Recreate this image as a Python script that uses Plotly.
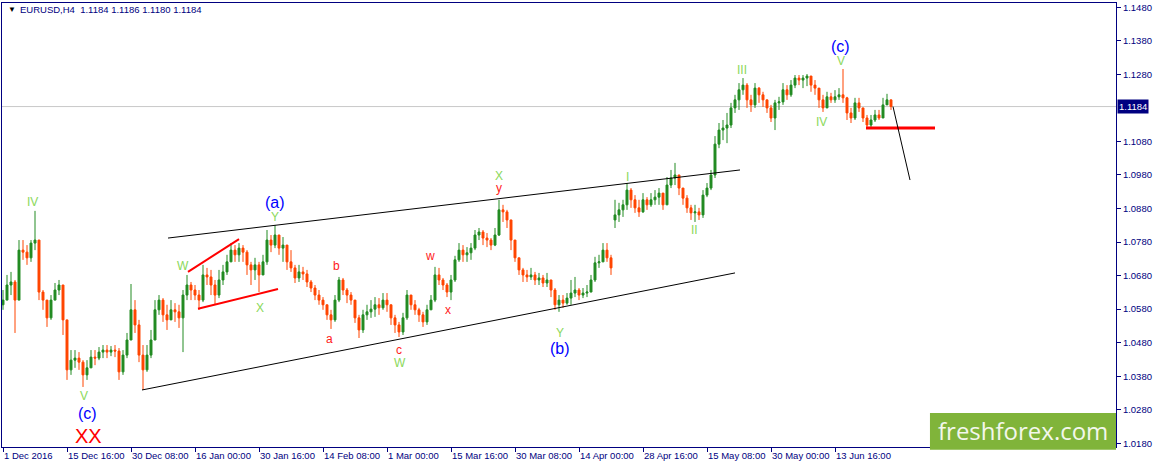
from typing import List

import plotly.graph_objects as go

"""
plot.py

EURUSD H4 chart with an Elliott wave count (1 Dec 2016 - end of Jun 2017).
One candle here stands for 4 H4 bars, x is counted in H4 bars from 1 Dec 2016 00:00.
"""

# ---- candles (price) ----
OPEN: List[float] = [
    1.0593, 1.0607, 1.0652, 1.0661, 1.0607, 1.0756, 1.0750, 1.0733, 1.0777, 1.0786,
    1.0631, 1.0607, 1.0554, 1.0607, 1.0637, 1.0652, 1.0548, 1.0399, 1.0428, 1.0434,
    1.0422, 1.0384, 1.0405, 1.0437, 1.0434, 1.0452, 1.0458, 1.0452, 1.0458, 1.0455,
    1.0393, 1.0443, 1.0488, 1.0578, 1.0533, 1.0443, 1.0399, 1.0443, 1.0488, 1.0578,
    1.0607, 1.0563, 1.0548, 1.0578, 1.0572, 1.0554, 1.0622, 1.0652, 1.0637, 1.0622,
    1.0607, 1.0682, 1.0676, 1.0652, 1.0622, 1.0667, 1.0691, 1.0721, 1.0756, 1.0742,
    1.0762, 1.0750, 1.0712, 1.0697, 1.0712, 1.0682, 1.0721, 1.0786, 1.0771, 1.0801,
    1.0762, 1.0771, 1.0721, 1.0703, 1.0673, 1.0691, 1.0685, 1.0661, 1.0643, 1.0622,
    1.0607, 1.0593, 1.0563, 1.0548, 1.0607, 1.0667, 1.0637, 1.0622, 1.0607, 1.0554,
    1.0518, 1.0563, 1.0572, 1.0580, 1.0593, 1.0584, 1.0607, 1.0593, 1.0554, 1.0533,
    1.0512, 1.0554, 1.0622, 1.0593, 1.0578, 1.0563, 1.0542, 1.0578, 1.0607, 1.0682,
    1.0667, 1.0652, 1.0631, 1.0667, 1.0727, 1.0756, 1.0742, 1.0748, 1.0762, 1.0801,
    1.0810, 1.0792, 1.0786, 1.0771, 1.0801, 1.0876, 1.0870, 1.0846, 1.0786, 1.0733,
    1.0697, 1.0682, 1.0676, 1.0682, 1.0667, 1.0673, 1.0658, 1.0667, 1.0637, 1.0593,
    1.0607, 1.0598, 1.0613, 1.0628, 1.0637, 1.0622, 1.0628, 1.0631, 1.0667, 1.0718,
    1.0721, 1.0756, 1.0733, 1.0846, 1.0861, 1.0876, 1.0891, 1.0935, 1.0906, 1.0882,
    1.0870, 1.0906, 1.0891, 1.0906, 1.0914, 1.0926, 1.0891, 1.0950, 1.0971, 1.0980,
    1.0941, 1.0911, 1.0882, 1.0867, 1.0870, 1.0861, 1.0920, 1.0941, 1.0980, 1.1072,
    1.1114, 1.1120, 1.1129, 1.1180, 1.1204, 1.1234, 1.1248, 1.1204, 1.1189, 1.1239,
    1.1219, 1.1204, 1.1180, 1.1150, 1.1195, 1.1198, 1.1234, 1.1219, 1.1248, 1.1269,
    1.1263, 1.1269, 1.1275, 1.1248, 1.1239, 1.1204, 1.1180, 1.1213, 1.1204, 1.1213,
    1.1219, 1.1210, 1.1165, 1.1150, 1.1195, 1.1180, 1.1150, 1.1129, 1.1144, 1.1159,
    1.1150, 1.1189, 1.1204,
]
HIGH: List[float] = [
    1.0637, 1.0682, 1.0691, 1.0667, 1.0786, 1.0786, 1.0771, 1.0786, 1.0873, 1.0786,
    1.0637, 1.0607, 1.0622, 1.0658, 1.0667, 1.0652, 1.0548, 1.0458, 1.0458, 1.0452,
    1.0428, 1.0428, 1.0458, 1.0458, 1.0467, 1.0473, 1.0473, 1.0470, 1.0473, 1.0464,
    1.0458, 1.0509, 1.0655, 1.0607, 1.0548, 1.0473, 1.0473, 1.0518, 1.0607, 1.0622,
    1.0613, 1.0593, 1.0607, 1.0598, 1.0593, 1.0637, 1.0682, 1.0661, 1.0652, 1.0637,
    1.0712, 1.0703, 1.0697, 1.0667, 1.0697, 1.0712, 1.0742, 1.0777, 1.0771, 1.0777,
    1.0771, 1.0756, 1.0721, 1.0733, 1.0721, 1.0742, 1.0816, 1.0801, 1.0831, 1.0801,
    1.0795, 1.0771, 1.0756, 1.0712, 1.0712, 1.0706, 1.0697, 1.0667, 1.0652, 1.0637,
    1.0616, 1.0593, 1.0578, 1.0622, 1.0676, 1.0673, 1.0643, 1.0631, 1.0607, 1.0563,
    1.0578, 1.0593, 1.0607, 1.0616, 1.0613, 1.0628, 1.0628, 1.0593, 1.0563, 1.0542,
    1.0569, 1.0637, 1.0622, 1.0607, 1.0584, 1.0572, 1.0593, 1.0622, 1.0706, 1.0703,
    1.0673, 1.0658, 1.0682, 1.0739, 1.0777, 1.0771, 1.0765, 1.0777, 1.0816, 1.0822,
    1.0816, 1.0807, 1.0792, 1.0822, 1.0906, 1.0891, 1.0876, 1.0846, 1.0786, 1.0733,
    1.0703, 1.0697, 1.0703, 1.0691, 1.0688, 1.0682, 1.0688, 1.0667, 1.0643, 1.0622,
    1.0622, 1.0628, 1.0667, 1.0676, 1.0643, 1.0643, 1.0652, 1.0682, 1.0736, 1.0742,
    1.0777, 1.0777, 1.0742, 1.0906, 1.0897, 1.0906, 1.0956, 1.0941, 1.0920, 1.0906,
    1.0926, 1.0914, 1.0926, 1.0935, 1.0941, 1.0926, 1.0974, 1.0995, 1.1016, 1.0980,
    1.0941, 1.0920, 1.0891, 1.0891, 1.0882, 1.0935, 1.0956, 1.0995, 1.1096, 1.1135,
    1.1144, 1.1165, 1.1195, 1.1219, 1.1254, 1.1269, 1.1254, 1.1219, 1.1254, 1.1242,
    1.1228, 1.1204, 1.1189, 1.1204, 1.1213, 1.1254, 1.1248, 1.1263, 1.1278, 1.1278,
    1.1278, 1.1281, 1.1275, 1.1263, 1.1239, 1.1219, 1.1228, 1.1225, 1.1233, 1.1239,
    1.1296, 1.1213, 1.1180, 1.1210, 1.1210, 1.1180, 1.1159, 1.1159, 1.1174, 1.1174,
    1.1210, 1.1222, 1.1204,
]
LOW: List[float] = [
    1.0578, 1.0607, 1.0622, 1.0509, 1.0607, 1.0727, 1.0712, 1.0721, 1.0756, 1.0607,
    1.0578, 1.0527, 1.0548, 1.0607, 1.0622, 1.0503, 1.0369, 1.0384, 1.0405, 1.0399,
    1.0348, 1.0369, 1.0405, 1.0413, 1.0428, 1.0434, 1.0434, 1.0440, 1.0437, 1.0369,
    1.0384, 1.0434, 1.0488, 1.0509, 1.0422, 1.0339, 1.0393, 1.0434, 1.0488, 1.0563,
    1.0542, 1.0518, 1.0548, 1.0542, 1.0524, 1.0452, 1.0607, 1.0607, 1.0607, 1.0578,
    1.0601, 1.0652, 1.0622, 1.0593, 1.0613, 1.0652, 1.0682, 1.0721, 1.0721, 1.0721,
    1.0721, 1.0682, 1.0652, 1.0667, 1.0631, 1.0682, 1.0712, 1.0750, 1.0762, 1.0742,
    1.0721, 1.0697, 1.0691, 1.0658, 1.0661, 1.0667, 1.0646, 1.0631, 1.0607, 1.0593,
    1.0578, 1.0548, 1.0521, 1.0542, 1.0601, 1.0622, 1.0598, 1.0593, 1.0539, 1.0494,
    1.0509, 1.0548, 1.0554, 1.0557, 1.0563, 1.0578, 1.0572, 1.0533, 1.0509, 1.0497,
    1.0503, 1.0548, 1.0578, 1.0563, 1.0542, 1.0527, 1.0533, 1.0578, 1.0601, 1.0652,
    1.0637, 1.0616, 1.0607, 1.0661, 1.0721, 1.0721, 1.0721, 1.0727, 1.0756, 1.0786,
    1.0771, 1.0765, 1.0756, 1.0768, 1.0798, 1.0840, 1.0822, 1.0756, 1.0721, 1.0682,
    1.0661, 1.0661, 1.0667, 1.0652, 1.0652, 1.0646, 1.0646, 1.0616, 1.0578, 1.0572,
    1.0584, 1.0593, 1.0593, 1.0616, 1.0607, 1.0613, 1.0616, 1.0631, 1.0661, 1.0703,
    1.0721, 1.0721, 1.0682, 1.0822, 1.0840, 1.0855, 1.0876, 1.0882, 1.0867, 1.0855,
    1.0867, 1.0876, 1.0885, 1.0891, 1.0891, 1.0876, 1.0891, 1.0941, 1.0950, 1.0920,
    1.0891, 1.0867, 1.0846, 1.0840, 1.0846, 1.0852, 1.0914, 1.0935, 1.0971, 1.1060,
    1.1084, 1.1075, 1.1120, 1.1165, 1.1174, 1.1219, 1.1180, 1.1168, 1.1180, 1.1195,
    1.1183, 1.1165, 1.1138, 1.1114, 1.1174, 1.1189, 1.1204, 1.1213, 1.1239, 1.1248,
    1.1239, 1.1245, 1.1228, 1.1219, 1.1180, 1.1168, 1.1180, 1.1195, 1.1195, 1.1204,
    1.1195, 1.1144, 1.1135, 1.1144, 1.1168, 1.1138, 1.1120, 1.1120, 1.1138, 1.1144,
    1.1150, 1.1189, 1.1174,
]
CLOSE: List[float] = [
    1.0607, 1.0652, 1.0661, 1.0607, 1.0756, 1.0750, 1.0733, 1.0777, 1.0786, 1.0631,
    1.0607, 1.0554, 1.0607, 1.0637, 1.0652, 1.0548, 1.0399, 1.0428, 1.0434, 1.0422,
    1.0384, 1.0405, 1.0437, 1.0434, 1.0452, 1.0458, 1.0452, 1.0458, 1.0455, 1.0393,
    1.0443, 1.0488, 1.0578, 1.0533, 1.0443, 1.0399, 1.0443, 1.0488, 1.0578, 1.0607,
    1.0563, 1.0548, 1.0578, 1.0572, 1.0554, 1.0622, 1.0652, 1.0637, 1.0622, 1.0607,
    1.0682, 1.0676, 1.0652, 1.0622, 1.0667, 1.0691, 1.0721, 1.0756, 1.0742, 1.0762,
    1.0750, 1.0712, 1.0697, 1.0712, 1.0682, 1.0721, 1.0786, 1.0771, 1.0801, 1.0762,
    1.0771, 1.0721, 1.0703, 1.0673, 1.0691, 1.0685, 1.0661, 1.0643, 1.0622, 1.0607,
    1.0593, 1.0563, 1.0548, 1.0607, 1.0667, 1.0637, 1.0622, 1.0607, 1.0554, 1.0518,
    1.0563, 1.0572, 1.0580, 1.0593, 1.0584, 1.0607, 1.0593, 1.0554, 1.0533, 1.0512,
    1.0554, 1.0622, 1.0593, 1.0578, 1.0563, 1.0542, 1.0578, 1.0607, 1.0682, 1.0667,
    1.0652, 1.0631, 1.0667, 1.0727, 1.0756, 1.0742, 1.0748, 1.0762, 1.0801, 1.0810,
    1.0792, 1.0786, 1.0771, 1.0801, 1.0876, 1.0870, 1.0846, 1.0786, 1.0733, 1.0697,
    1.0682, 1.0676, 1.0682, 1.0667, 1.0673, 1.0658, 1.0667, 1.0637, 1.0593, 1.0607,
    1.0598, 1.0613, 1.0628, 1.0637, 1.0622, 1.0628, 1.0631, 1.0667, 1.0718, 1.0721,
    1.0756, 1.0733, 1.0703, 1.0861, 1.0876, 1.0891, 1.0935, 1.0906, 1.0882, 1.0870,
    1.0906, 1.0891, 1.0906, 1.0914, 1.0926, 1.0891, 1.0950, 1.0971, 1.0980, 1.0941,
    1.0911, 1.0882, 1.0867, 1.0870, 1.0861, 1.0920, 1.0941, 1.0980, 1.1072, 1.1114,
    1.1120, 1.1129, 1.1180, 1.1204, 1.1234, 1.1248, 1.1204, 1.1189, 1.1239, 1.1219,
    1.1204, 1.1180, 1.1150, 1.1195, 1.1198, 1.1234, 1.1219, 1.1248, 1.1269, 1.1263,
    1.1269, 1.1275, 1.1248, 1.1239, 1.1204, 1.1180, 1.1213, 1.1204, 1.1213, 1.1219,
    1.1210, 1.1165, 1.1150, 1.1195, 1.1180, 1.1150, 1.1129, 1.1144, 1.1159, 1.1150,
    1.1189, 1.1204, 1.1184,
]
BARS_PER_CANDLE: int = 4

# ---- axes ----
X_TICK_BARS: List[int] = [0, 64, 128, 192, 256, 320, 384, 448, 512, 576, 640, 704, 768, 832]
X_TICK_LABELS: List[str] = [
    "1 Dec 2016", "15 Dec 16:00", "30 Dec 08:00", "16 Jan 00:00", "30 Jan 16:00",
    "14 Feb 08:00", "1 Mar 00:00", "15 Mar 16:00", "30 Mar 08:00", "14 Apr 00:00",
    "28 Apr 16:00", "15 May 08:00", "30 May 00:00", "13 Jun 16:00",
]
# 1.1180 is hidden behind the last-price box, so it is left out
Y_TICKS: List[float] = [1.0180, 1.0280, 1.0380, 1.0480, 1.0580, 1.0680, 1.0780,
                        1.0880, 1.0980, 1.1080, 1.1280, 1.1380, 1.1480]
Y_TICK_LABELS: List[str] = [f"{v:.4f}" for v in Y_TICKS]
LAST_PRICE: float = 1.1184
HEADER: str = "EURUSD,H4\u00a0 1.1184 1.1186 1.1180 1.1184"

# ---- trend lines (bar, price) ----
CHANNEL_TOP_BAR: List[int] = [165, 737]
CHANNEL_TOP_PRICE: List[float] = [1.0792, 1.0995]
CHANNEL_LOW_BAR: List[int] = [139, 732]
CHANNEL_LOW_PRICE: List[float] = [1.0339, 1.0688]
TRI_TOP_BAR: List[int] = [185, 236]
TRI_TOP_PRICE: List[float] = [1.0691, 1.0789]
TRI_LOW_BAR: List[int] = [195, 275]
TRI_LOW_PRICE: List[float] = [1.0581, 1.0640]
LEVEL_BAR: List[int] = [863, 932]
LEVEL_PRICE: List[float] = [1.1120, 1.1120]
FORECAST_BAR: List[int] = [890, 907]
FORECAST_PRICE: List[float] = [1.1184, 1.0965]

# ---- wave labels ----
GREEN_TEXT: List[str] = ["IV", "V", "W", "X", "Y", "W", "X", "Y", "I", "II", "III", "IV", "V"]
GREEN_BAR: List[int] = [29, 81, 180, 257, 272, 397, 496, 557, 624, 691, 739, 818, 838]
GREEN_PRICE: List[float] = [1.0900, 1.0321, 1.0709, 1.0584, 1.0855, 1.0419, 1.0976,
                            1.0509, 1.0974, 1.0816, 1.1293, 1.1138, 1.1320]
RED_TEXT: List[str] = ["a", "b", "c", "w", "x", "y"]
RED_BAR: List[int] = [326, 333, 396, 427, 445, 496]
RED_PRICE: List[float] = [1.0491, 1.0709, 1.0458, 1.0739, 1.0578, 1.0942]
BLUE_TEXT: List[str] = ["(c)", "(a)", "(b)", "(c)"]
BLUE_BAR: List[int] = [84, 272, 557, 837]
BLUE_PRICE: List[float] = [1.0270, 1.0897, 1.0464, 1.1362]
BIG_TEXT: str = "XX"
BIG_BAR: int = 85
BIG_PRICE: float = 1.0202

NAVY = "#000080"
FONT = "Liberation Sans, Arial, sans-serif"


def add_line(fig: go.Figure, xs: List[int], ys: List[float], color: str, width: float) -> None:
    """畫一條趨勢線"""
    fig.add_trace(
        go.Scatter(x=xs, y=ys, mode="lines", line=dict(color=color, width=width),
                   hoverinfo="skip", showlegend=False)
    )


def add_labels(fig: go.Figure, texts: List[str], xs: List[int], ys: List[float],
               color: str, size: float) -> None:
    """波浪標記"""
    for t, x, y in zip(texts, xs, ys):
        fig.add_annotation(x=x, y=y, text=t, showarrow=False,
                           font=dict(family=FONT, size=size, color=color),
                           xanchor="center", yanchor="middle")


bars = [i * BARS_PER_CANDLE for i in range(len(CLOSE))]

fig = go.Figure()

# 現價線 (bid line)
fig.add_shape(type="line", xref="paper", x0=0, x1=1, yref="y", y0=LAST_PRICE, y1=LAST_PRICE,
              line=dict(color="#c8c8c8", width=1), layer="below")

fig.add_trace(
    go.Candlestick(
        x=bars, open=OPEN, high=HIGH, low=LOW, close=CLOSE,
        increasing=dict(line=dict(color="#228b22", width=1), fillcolor="#228b22"),
        decreasing=dict(line=dict(color="#ff4500", width=1), fillcolor="#ff4500"),
        whiskerwidth=0, showlegend=False, hoverinfo="skip",
    )
)

add_line(fig, CHANNEL_TOP_BAR, CHANNEL_TOP_PRICE, "black", 1)
add_line(fig, CHANNEL_LOW_BAR, CHANNEL_LOW_PRICE, "black", 1)
add_line(fig, TRI_TOP_BAR, TRI_TOP_PRICE, "#ff0000", 2)
add_line(fig, TRI_LOW_BAR, TRI_LOW_PRICE, "#ff0000", 2)
add_line(fig, LEVEL_BAR, LEVEL_PRICE, "#ff0000", 3)
add_line(fig, FORECAST_BAR, FORECAST_PRICE, "black", 1)

add_labels(fig, GREEN_TEXT, GREEN_BAR, GREEN_PRICE, "#8ad85a", 12)
add_labels(fig, RED_TEXT, RED_BAR, RED_PRICE, "#ff1a1a", 12)
add_labels(fig, BLUE_TEXT, BLUE_BAR, BLUE_PRICE, "#0000ff", 16)
add_labels(fig, [BIG_TEXT], [BIG_BAR], [BIG_PRICE], "#ff0000", 20)

# 左上角標題
fig.add_annotation(xref="paper", yref="paper", x=0.004, y=0.985, text="\u25bc", showarrow=False,
                   font=dict(family=FONT, size=8, color="#000000"), xanchor="left", yanchor="middle")
fig.add_annotation(xref="paper", yref="paper", x=0.0145, y=0.985, text=HEADER, showarrow=False,
                   font=dict(family=FONT, size=9.5, color=NAVY), xanchor="left", yanchor="middle")

# 右側現價標籤
fig.add_annotation(xref="paper", yref="y", x=1.0, y=LAST_PRICE, text=f"{LAST_PRICE:.4f}",
                   showarrow=False, xanchor="left", yanchor="middle", bgcolor=NAVY,
                   font=dict(family=FONT, size=9.5, color="white"), borderpad=1, xshift=1)

# logo
fig.add_shape(type="rect", xref="paper", yref="paper", x0=0.833, x1=1.0, y0=-0.006, y1=0.0766,
              fillcolor="#80b43a", line=dict(width=0), layer="above")
fig.add_annotation(xref="paper", yref="paper", x=0.9165, y=0.037, text="freshforex.com",
                   showarrow=False, font=dict(family="Open Sans", size=24, color="#f3f7ec"),
                   xanchor="center", yanchor="middle")

fig.update_layout(
    width=1157,
    height=468,
    autosize=False,
    margin=dict(l=2, r=41, t=3, b=21, autoexpand=False),
    plot_bgcolor="white",
    paper_bgcolor="white",
    showlegend=False,
    xaxis=dict(
        range=[-1, 1113],
        tickmode="array",
        tickvals=X_TICK_BARS,
        ticktext=X_TICK_LABELS,
        tickangle=0,
        ticks="outside",
        ticklen=4,
        tickcolor=NAVY,
        ticklabelposition="outside right",
        tickfont=dict(family=FONT, size=9.5, color=NAVY),
        showline=True,
        linecolor=NAVY,
        mirror=True,
        showgrid=False,
        zeroline=False,
        automargin=False,
        rangeslider=dict(visible=False),
        fixedrange=True,
    ),
    yaxis=dict(
        side="right",
        range=[1.0169, 1.14928],
        tickmode="array",
        tickvals=Y_TICKS,
        ticktext=Y_TICK_LABELS,
        ticks="outside",
        ticklen=4,
        tickcolor=NAVY,
        tickfont=dict(family=FONT, size=9.5, color=NAVY),
        showline=True,
        linecolor=NAVY,
        mirror=True,
        showgrid=False,
        zeroline=False,
        automargin=False,
        fixedrange=True,
    ),
)

# 瀏覽器預設 body margin 8px，去掉讓圖貼齊視窗
fig.write_html(
    "out.html",
    config={"displayModeBar": False},
    post_script="document.body.style.margin='0px';",
)
